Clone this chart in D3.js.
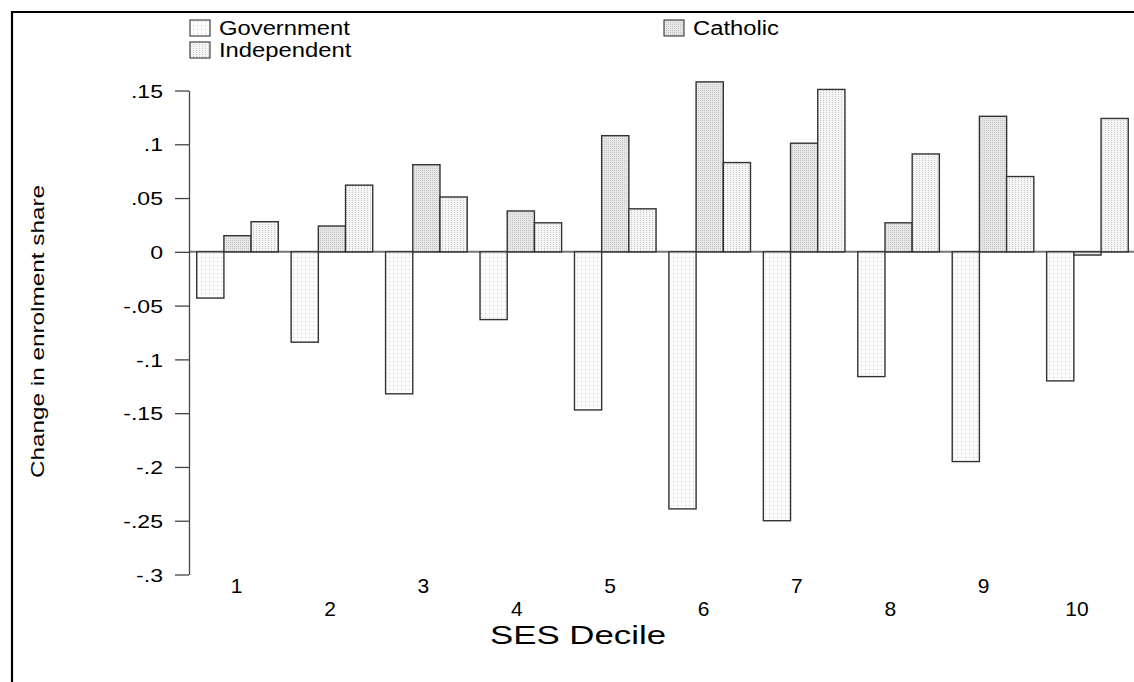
<!DOCTYPE html>
<html><head><meta charset="utf-8">
<script src="https://cdn.jsdelivr.net/npm/d3@7"></script>
<style>body{margin:0;background:#fff}svg{display:block;font-family:"Liberation Sans",Arial,sans-serif}</style>
</head><body><svg id="c" width="1134" height="682"></svg>
<script>
const deciles = ["1","2","3","4","5","6","7","8","9","10"];
const seriesNames = ["Government","Catholic","Independent"];
const government = [-0.043,-0.084,-0.132,-0.063,-0.147,-0.239,-0.250,-0.116,-0.195,-0.120];
const catholic   = [0.015,0.024,0.081,0.038,0.108,0.158,0.101,0.027,0.126,-0.003];
const independent= [0.028,0.062,0.051,0.027,0.040,0.083,0.151,0.091,0.070,0.124];
const yTicks = [0.15,0.1,0.05,0,-0.05,-0.1,-0.15,-0.2,-0.25,-0.3];
const yTickLabels = [".15",".1",".05","0","-.05","-.1","-.15","-.2","-.25","-.3"];

const svg = d3.select("#c");
const defs = svg.append("defs");
const pg = defs.append("pattern").attr("id","pGov").attr("width",4).attr("height",4).attr("patternUnits","userSpaceOnUse");
pg.append("rect").attr("width",4).attr("height",4).attr("fill","#fdfdfd");
pg.append("rect").attr("x",1).attr("y",1).attr("width",1).attr("height",1).attr("fill","#c4c4c4");
const pc = defs.append("pattern").attr("id","pCat").attr("width",2).attr("height",2).attr("patternUnits","userSpaceOnUse");
pc.append("rect").attr("width",2).attr("height",2).attr("fill","#e6e6e6");
pc.append("rect").attr("width",1).attr("height",1).attr("fill","#c8c8c8");
const pi = defs.append("pattern").attr("id","pInd").attr("width",3).attr("height",2).attr("patternUnits","userSpaceOnUse");
pi.append("rect").attr("width",3).attr("height",2).attr("fill","#f6f6f6");
pi.append("rect").attr("x",1).attr("y",0).attr("width",1).attr("height",1).attr("fill","#c6c6c6");
const fills = ["url(#pGov)","url(#pCat)","url(#pInd)"];

function stretch(sel, f){
  sel.each(function(){
    const w = this.getComputedTextLength();
    d3.select(this).attr("textLength", w*f).attr("lengthAdjust","spacingAndGlyphs");
  });
}

// frame
svg.append("path").attr("d","M12,690 L12,12 L1140,12").attr("fill","none").attr("stroke","#000").attr("stroke-width",2.2);

const y = d3.scaleLinear().domain([-0.3,0.15]).range([574.5,90.5]);
const step = 94.44, gapFrac = 0.136;
const x0 = d3.scaleBand().domain(deciles)
  .range([196.7 - step*gapFrac/2, 196.7 - step*gapFrac/2 + 10*step])
  .paddingInner(gapFrac).paddingOuter(gapFrac/2);
const x1 = d3.scaleBand().domain(seriesNames).range([0,x0.bandwidth()]);
const xLab = d3.scalePoint().domain(deciles).range([236.7,1077]);

const data = deciles.map((d,i)=>({d, vals:[government[i],catholic[i],independent[i]]}));

// zero line
svg.append("line").attr("x1",189).attr("x2",1134).attr("y1",y(0)).attr("y2",y(0)).attr("stroke","#777").attr("stroke-width",2);

// bars
const g = svg.append("g");
data.forEach(row=>{
  row.vals.forEach((v,j)=>{
    g.append("rect")
      .attr("x",x0(row.d)+x1(seriesNames[j]))
      .attr("width",x1.bandwidth())
      .attr("y",y(Math.max(0,v)))
      .attr("height",Math.abs(y(v)-y(0)))
      .attr("fill",fills[j]).attr("stroke","#333").attr("stroke-width",1.4);
  });
});

// y axis
const ax = svg.append("g").attr("transform","translate(189,0)")
  .call(d3.axisLeft(y).tickValues(yTicks).tickFormat((d,i)=>yTickLabels[i]).tickSize(14).tickPadding(12).tickSizeOuter(0));
ax.select(".domain").attr("stroke","#444").attr("stroke-width",1.3);
ax.selectAll(".tick line").attr("stroke","#444").attr("stroke-width",1.3);
const tt = ax.selectAll(".tick text").attr("font-size",18.6).attr("fill","#000")
  .attr("font-family","Liberation Sans, Arial, sans-serif").attr("dy","0.36em");
stretch(tt,1.24);

// x labels staggered
svg.append("g").selectAll("text").data(deciles).join("text")
  .attr("x",d=>xLab(d))
  .attr("y",(d,i)=> i%2===0 ? 593 : 615.5)
  .attr("text-anchor","middle").attr("font-size",21).attr("fill","#000").text(d=>d);

svg.append("text").attr("x",578).attr("y",644).attr("text-anchor","middle").attr("font-size",26.5)
  .attr("textLength",176).attr("lengthAdjust","spacingAndGlyphs").text("SES Decile");
svg.append("text").attr("transform","translate(44,331.5) rotate(-90)").attr("text-anchor","middle").attr("font-size",17.5)
  .attr("textLength",293).attr("lengthAdjust","spacingAndGlyphs").text("Change in enrolment share");

// legend
const legend = [{name:"Government",f:0,x:190,y:20},{name:"Independent",f:2,x:190,y:42},{name:"Catholic",f:1,x:664,y:20}];
legend.forEach(l=>{
  svg.append("rect").attr("x",l.x).attr("y",l.y).attr("width",20).attr("height",16).attr("fill",fills[l.f]).attr("stroke","#444").attr("stroke-width",1.2);
  const t = svg.append("text").attr("x",l.x+29).attr("y",l.y+15).attr("font-size",19.5).text(l.name);
  stretch(t,1.22);
});
</script></body></html>
